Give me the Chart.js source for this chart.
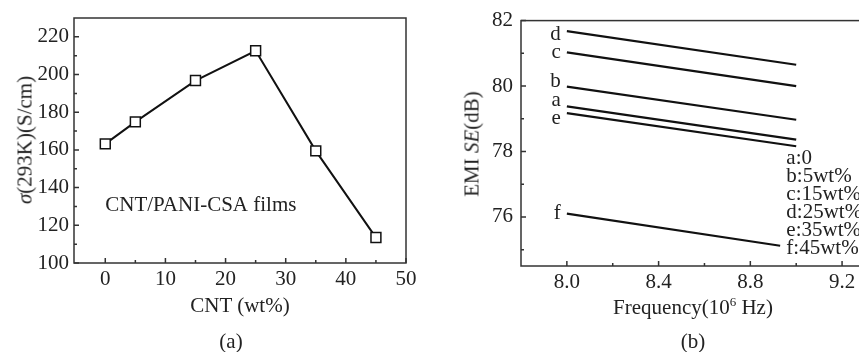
<!DOCTYPE html>
<html>
<head>
<meta charset="utf-8">
<script src="https://cdn.jsdelivr.net/npm/chart.js@4"></script>
<style>
html, body { margin: 0; padding: 0; background: #fff; overflow: hidden; width: 859px; height: 352px; }
body { position: relative; font-family: "Liberation Serif", "Times New Roman", serif; color: #222; }
canvas { position: absolute; top: 0; }
#chartA { left: 0; }
#chartB { left: 430px; }
.t { position: absolute; font-size: 21px; white-space: nowrap; line-height: 1; transform: translate(-50%, -50%); }
.rot { transform: translate(-50%, -50%) rotate(-90deg); }
</style>
</head>
<body>
<canvas id="chartA" width="430" height="352"></canvas>
<canvas id="chartB" width="440" height="352"></canvas>

<div class="t rot" style="left:25px; top:140px;"><i>σ</i>(293K)(S/cm)</div>
<div class="t" style="left:240px; top:305px;">CNT (wt%)</div>
<div class="t" style="left:231px; top:341px;">(a)</div>

<div class="t rot" style="left:472px; top:144px;">EMI <i>SE</i>(dB)</div>
<div class="t" style="left:693px; top:306px;">Frequency(10<sup style="font-size:13px;">6</sup> Hz)</div>
<div class="t" style="left:693px; top:341px;">(b)</div>

<script>
// panel (a): conductivity vs CNT content
const cntWt = [0, 5, 15, 25, 35, 45];
const sigma = [163.2, 174.9, 196.8, 212.6, 159.5, 113.5];
const xTicksA = [0, 10, 20, 30, 40, 50];
const xMinorA = [5, 15, 25, 35, 45];
const yTicksA = [100, 120, 140, 160, 180, 200, 220];
const yMinorA = [110, 130, 150, 170, 190, 210];

// panel (b): EMI SE vs frequency, one [start, end] pair per film
const curveKeys = ['a', 'b', 'c', 'd', 'e', 'f'];
const curveNames = ['a:0', 'b:5wt%', 'c:15wt%', 'd:25wt%', 'e:35wt%', 'f:45wt%'];
const freqFull = [8.0, 9.0];
const freqF = [8.0, 8.93];
const seA = [79.38, 78.36];
const seB = [79.98, 78.97];
const seC = [81.03, 80.00];
const seD = [81.68, 80.65];
const seE = [79.17, 78.16];
const seF = [76.10, 75.12];
const xTicksB = [8.0, 8.4, 8.8, 9.2];
const xMinorB = [8.2, 8.6, 9.0];
const yTicksB = [76, 78, 80, 82];
const yMinorB = [75, 77, 79, 81];

const serif = '"Liberation Serif", "Times New Roman", serif';
Chart.defaults.font.family = serif;
Chart.defaults.font.size = 21;
Chart.defaults.color = '#222';

function frame(xMaj, xMin, yMaj, yMin) {
  return {
    id: 'frame',
    afterDraw(chart) {
      const { ctx, chartArea: a, scales: { x, y } } = chart;
      ctx.save();
      ctx.strokeStyle = '#333';
      ctx.lineWidth = 1.5;
      ctx.strokeRect(a.left, a.top, a.right - a.left, a.bottom - a.top);
      ctx.beginPath();
      xMaj.forEach(v => { const p = x.getPixelForValue(v); ctx.moveTo(p, a.bottom); ctx.lineTo(p, a.bottom - 5); });
      xMin.forEach(v => { const p = x.getPixelForValue(v); ctx.moveTo(p, a.bottom); ctx.lineTo(p, a.bottom - 3); });
      yMaj.forEach(v => { const p = y.getPixelForValue(v); ctx.moveTo(a.left, p); ctx.lineTo(a.left + 5, p); });
      yMin.forEach(v => { const p = y.getPixelForValue(v); ctx.moveTo(a.left, p); ctx.lineTo(a.left + 3, p); });
      ctx.stroke();
      ctx.restore();
    }
  };
}

function axis(min, max, ticks, pad, fmt, size) {
  return {
    type: 'linear', min: min, max: max,
    grid: { display: false, drawTicks: false },
    border: { display: false },
    afterBuildTicks: s => { s.ticks = ticks.map(v => ({ value: v })); },
    afterFit: s => { if (s.isHorizontal()) s.height = size; else s.width = size; },
    ticks: { padding: pad, autoSkip: false, maxRotation: 0, callback: fmt }
  };
}

// ---- chart (a)
const notesA = {
  id: 'notesA',
  afterDraw(chart) {
    const { ctx, scales: { x, y } } = chart;
    ctx.save();
    ctx.font = '21px ' + serif;
    ctx.fillStyle = '#222';
    ctx.textBaseline = 'middle';
    ctx.fillText('CNT/PANI-CSA films', x.getPixelForValue(0), y.getPixelForValue(130.3));
    ctx.restore();
  }
};

new Chart(document.getElementById('chartA'), {
  type: 'line',
  data: {
    datasets: [{
      data: cntWt.map((v, i) => ({ x: v, y: sigma[i] })),
      borderColor: '#111',
      borderWidth: 2,
      tension: 0,
      pointStyle: 'rect',
      pointRadius: 7,
      pointBackgroundColor: '#fff',
      pointBorderColor: '#111',
      pointBorderWidth: 1.5
    }]
  },
  options: {
    responsive: false,
    animation: false,
    layout: { padding: { top: 18, right: 24, left: 0, bottom: 0 } },
    plugins: { legend: { display: false }, tooltip: { enabled: false } },
    scales: {
      x: axis(-5.2, 50, xTicksA, 4, v => v, 89),
      y: axis(100, 230, yTicksA, 5, v => v, 74)
    }
  },
  plugins: [frame(xTicksA, xMinorA, yTicksA, yMinorA), notesA]
});

// ---- chart (b)
const seSeries = [seA, seB, seC, seD, seE, seF];
const labelNudge = [-6, -5, 0, 3, 5, 0];

const notesB = {
  id: 'notesB',
  afterDraw(chart) {
    const { ctx, scales: { x, y } } = chart;
    ctx.save();
    ctx.font = '21px ' + serif;
    ctx.fillStyle = '#222';
    ctx.textBaseline = 'middle';
    ctx.textAlign = 'right';
    seSeries.forEach((s, i) => {
      ctx.fillText(curveKeys[i], x.getPixelForValue(8.0) - 6, y.getPixelForValue(s[0]) + labelNudge[i]);
    });
    ctx.textAlign = 'left';
    const lx = x.getPixelForValue(8.957);
    const ly = y.getPixelForValue(77.8);
    curveNames.forEach((n, i) => ctx.fillText(n, lx, ly + i * 18));
    ctx.restore();
  }
};

new Chart(document.getElementById('chartB'), {
  type: 'line',
  data: {
    datasets: seSeries.map((s, i) => ({
      label: curveNames[i],
      data: (i === 5 ? freqF : freqFull).map((f, j) => ({ x: f, y: s[j] })),
      borderColor: '#111',
      borderWidth: 2.2,
      pointRadius: 0,
      tension: 0
    }))
  },
  options: {
    responsive: false,
    animation: false,
    layout: { padding: { top: 18, right: 5, left: 0, bottom: 0 } },
    plugins: { legend: { display: false }, tooltip: { enabled: false } },
    scales: {
      x: axis(7.8, 9.3, xTicksB, 4, v => v.toFixed(1), 86),
      y: axis(74.5, 82, yTicksB, 8, v => v, 91)
    }
  },
  plugins: [frame(xTicksB, xMinorB, yTicksB, yMinorB), notesB]
});
</script>
</body>
</html>
